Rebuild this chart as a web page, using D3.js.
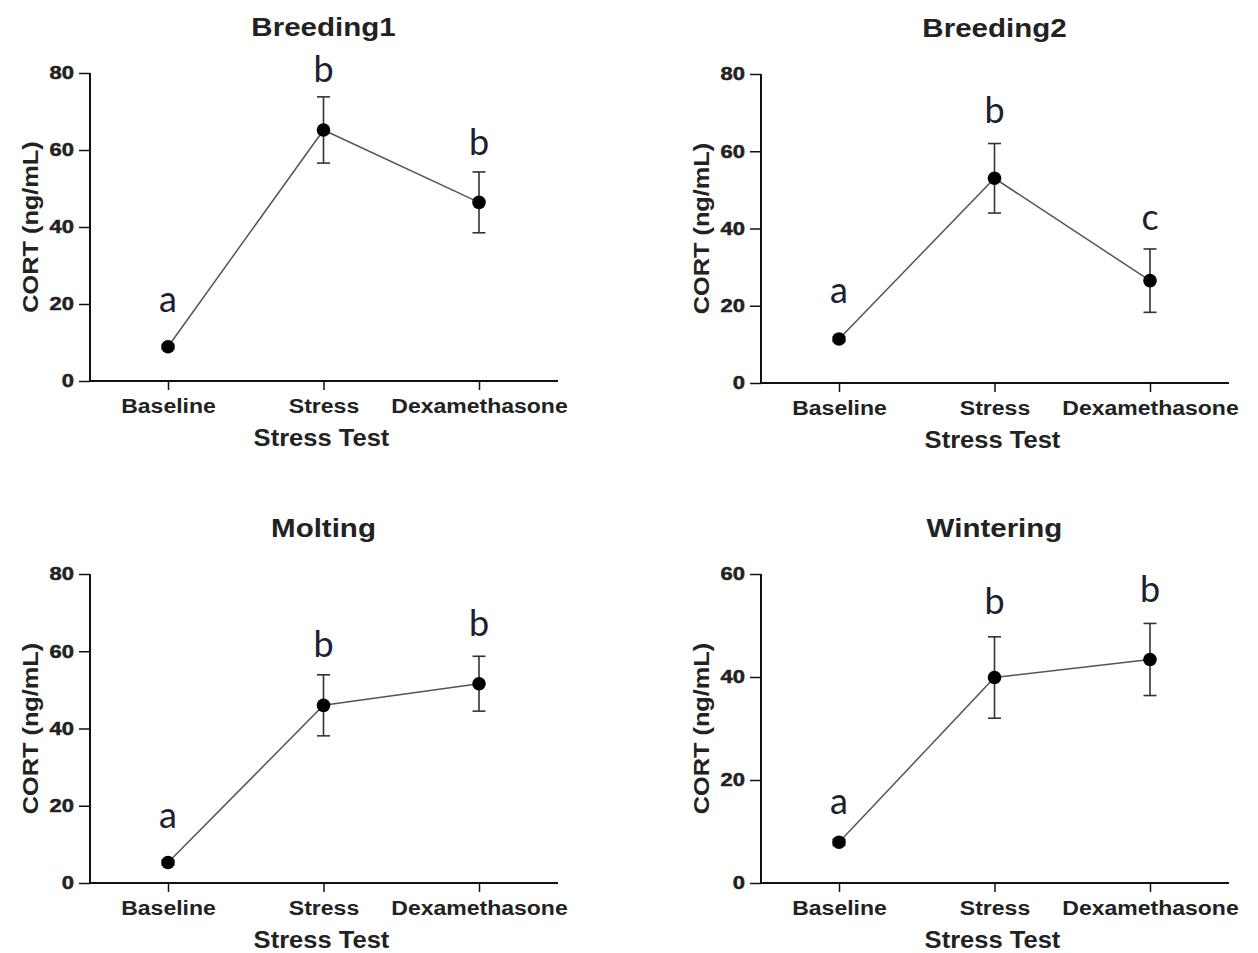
<!DOCTYPE html>
<html>
<head>
<meta charset="utf-8">
<script src="https://cdn.jsdelivr.net/npm/d3@7"></script>
<style>
  body { margin: 0; background: #fff; }
  text { font-family: "Liberation Sans", Arial, sans-serif; }
</style>
</head>
<body>
<script>
var categories = ["Baseline", "Stress", "Dexamethasone"];
var panelTitles = ["Breeding1", "Breeding2", "Molting", "Wintering"];
var yMaxes = [80, 80, 80, 60];

// mean CORT per stress test, one array per panel
var breeding1 = [8.9, 65.2, 46.4];
var breeding2 = [11.4, 53.0, 26.5];
var molting = [5.3, 46.0, 51.6];
var wintering = [7.9, 39.9, 43.4];

// standard errors
var breeding1Err = [0.6, 8.6, 7.9];
var breeding2Err = [0.6, 9.0, 8.2];
var moltingErr = [0.6, 7.9, 7.1];
var winteringErr = [0.6, 7.9, 7.0];

// significance letters and the value they sit at
var breeding1Letters = ["a", "b", "b"], breeding1LetterY = [18.0, 77.7, 58.7];
var breeding2Letters = ["a", "b", "c"], breeding2LetterY = [20.7, 67.3, 39.7];
var moltingLetters = ["a", "b", "b"], moltingLetterY = [14.2, 58.5, 63.9];
var winteringLetters = ["a", "b", "b"], winteringLetterY = [13.4, 52.2, 54.6];

var panels = [
  { title: panelTitles[0], yMax: yMaxes[0], values: breeding1, err: breeding1Err, letters: breeding1Letters, letterY: breeding1LetterY, x0: 90, top: 73, bottom: 381 },
  { title: panelTitles[1], yMax: yMaxes[1], values: breeding2, err: breeding2Err, letters: breeding2Letters, letterY: breeding2LetterY, x0: 761, top: 74, bottom: 383 },
  { title: panelTitles[2], yMax: yMaxes[2], values: molting, err: moltingErr, letters: moltingLetters, letterY: moltingLetterY, x0: 90, top: 574, bottom: 883 },
  { title: panelTitles[3], yMax: yMaxes[3], values: wintering, err: winteringErr, letters: winteringLetters, letterY: winteringLetterY, x0: 761, top: 574, bottom: 883 }
];

var svg = d3.select("body").append("svg")
  .attr("width", 1258)
  .attr("height", 953)
  .style("display", "block");

function stretch(sel, ratio) {
  sel.each(function() {
    var w = this.getComputedTextLength();
    d3.select(this).attr("textLength", w * ratio).attr("lengthAdjust", "spacingAndGlyphs");
  });
}

panels.forEach(function(p) {
  var plotW = 468;
  var g = svg.append("g").attr("transform", "translate(" + p.x0 + "," + p.top + ")");
  var h = p.bottom - p.top;

  var x = d3.scalePoint().domain(categories).range([78, 389]);
  var y = d3.scaleLinear().domain([0, p.yMax]).range([h, 0]);

  var data = categories.map(function(c, i) {
    return { cat: c, v: p.values[i], e: p.err[i], letter: p.letters[i], ly: p.letterY[i] };
  });

  // y axis
  var yAxis = g.append("g")
    .call(d3.axisLeft(y).tickValues(d3.range(0, p.yMax + 1, 20)).tickSize(11).tickPadding(5).tickFormat(d3.format("d")));
  yAxis.select(".domain").attr("stroke", "#111").attr("stroke-width", 2).attr("d", "M0,0V" + h);
  yAxis.selectAll(".tick line").attr("stroke", "#111").attr("stroke-width", 1.5);
  yAxis.selectAll(".tick text")
    .attr("fill", "#222")
    .attr("stroke", "#222")
    .attr("stroke-width", 0.5)
    .style("font-size", "18px")
    .style("font-weight", "bold")
    .call(stretch, 1.22);

  // x axis
  var xAxis = g.append("g")
    .attr("transform", "translate(0," + h + ")")
    .call(d3.axisBottom(x).tickSize(9).tickPadding(9));
  xAxis.select(".domain").attr("stroke", "#111").attr("stroke-width", 2).attr("d", "M0,0H" + plotW);
  xAxis.selectAll(".tick line").attr("stroke", "#111").attr("stroke-width", 1.5);
  xAxis.selectAll(".tick text")
    .attr("fill", "#222")
    .style("font-size", "20px")
    .style("font-weight", "bold")
    .call(stretch, 1.15);

  // connecting line
  g.append("path")
    .datum(data)
    .attr("fill", "none")
    .attr("stroke", "#555")
    .attr("stroke-width", 1.5)
    .attr("d", d3.line().x(function(d) { return x(d.cat); }).y(function(d) { return y(d.v); }));

  // error bars
  var eb = g.selectAll(".err").data(data).enter().append("g").attr("class", "err")
    .attr("stroke", "#333").attr("stroke-width", 1.6);
  eb.append("line")
    .attr("x1", function(d) { return x(d.cat); })
    .attr("x2", function(d) { return x(d.cat); })
    .attr("y1", function(d) { return y(d.v + d.e); })
    .attr("y2", function(d) { return y(d.v - d.e); });
  eb.append("line")
    .attr("x1", function(d) { return x(d.cat) - 6.5; })
    .attr("x2", function(d) { return x(d.cat) + 6.5; })
    .attr("y1", function(d) { return y(d.v + d.e); })
    .attr("y2", function(d) { return y(d.v + d.e); });
  eb.append("line")
    .attr("x1", function(d) { return x(d.cat) - 6.5; })
    .attr("x2", function(d) { return x(d.cat) + 6.5; })
    .attr("y1", function(d) { return y(d.v - d.e); })
    .attr("y2", function(d) { return y(d.v - d.e); });

  // points
  g.selectAll(".dot").data(data).enter().append("circle")
    .attr("class", "dot")
    .attr("cx", function(d) { return x(d.cat); })
    .attr("cy", function(d) { return y(d.v); })
    .attr("r", 6.8)
    .attr("fill", "#000");

  // letters
  g.selectAll(".letter").data(data).enter().append("text")
    .attr("class", "letter")
    .attr("x", function(d) { return x(d.cat); })
    .attr("y", function(d) { return y(d.ly); })
    .attr("text-anchor", "middle")
    .style("font-family", "Lato, 'Open Sans', sans-serif")
    .style("font-size", "36px")
    .attr("fill", "#1c2030")
    .text(function(d) { return d.letter; });

  // title
  g.append("text")
    .attr("x", x("Stress"))
    .attr("y", -37)
    .attr("text-anchor", "middle")
    .style("font-size", "25px")
    .style("font-weight", "bold")
    .attr("fill", "#222")
    .text(p.title)
    .call(stretch, 1.18);

  // x axis title
  g.append("text")
    .attr("x", x("Stress") - 2)
    .attr("y", h + 65)
    .attr("text-anchor", "middle")
    .style("font-size", "23px")
    .style("font-weight", "bold")
    .attr("fill", "#222")
    .text("Stress Test")
    .call(stretch, 1.11);

  // y axis title
  g.append("text")
    .attr("transform", "translate(-52," + (h / 2) + ") rotate(-90)")
    .attr("text-anchor", "middle")
    .style("font-size", "22px")
    .style("font-weight", "bold")
    .attr("fill", "#222")
    .text("CORT (ng/mL)")
    .call(stretch, 1.15);
});
</script>
</body>
</html>
